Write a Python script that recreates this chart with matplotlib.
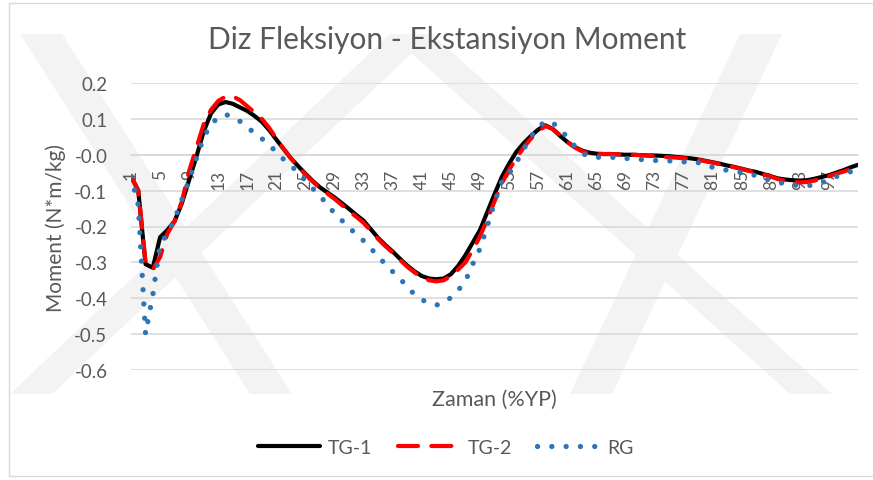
import numpy as np
import matplotlib
matplotlib.use("Agg")
import matplotlib.pyplot as plt
from matplotlib.patches import Polygon, Rectangle

plt.rcParams['font.family'] = ['Lato', 'DejaVu Sans']

# gait cycle points 1..101
zaman = np.arange(1, 102)
tick_labels = [str(t) for t in range(1, 101, 4)]

tg1 = [-0.060, -0.100, -0.305, -0.315, -0.230, -0.210, -0.185, -0.135, -0.070, -0.005,
       0.065, 0.115, 0.140, 0.147, 0.142, 0.132, 0.122, 0.108, 0.092, 0.069,
       0.042, 0.016, -0.010, -0.032, -0.053, -0.073, -0.091, -0.105, -0.119, -0.135,
       -0.151, -0.168, -0.184, -0.208, -0.232, -0.252, -0.270, -0.290, -0.309, -0.325,
       -0.338, -0.345, -0.347, -0.345, -0.333, -0.310, -0.280, -0.245, -0.210, -0.160,
       -0.110, -0.062, -0.025, 0.008, 0.032, 0.052, 0.070, 0.082, 0.072, 0.053,
       0.036, 0.022, 0.012, 0.006, 0.003, 0.002, 0.002, 0.001, 0.000, 0.000,
       -0.001, -0.002, -0.002, -0.003, -0.004, -0.006, -0.008, -0.010, -0.013, -0.017,
       -0.021, -0.025, -0.030, -0.034, -0.039, -0.044, -0.048, -0.054, -0.060, -0.066,
       -0.069, -0.071, -0.072, -0.071, -0.067, -0.062, -0.057, -0.050, -0.043, -0.035,
       -0.028]

tg2 = [-0.060, -0.100, -0.300, -0.320, -0.285, -0.220, -0.185, -0.130, -0.045, 0.020,
       0.085, 0.125, 0.150, 0.162, 0.163, 0.152, 0.135, 0.118, 0.100, 0.075,
       0.045, 0.016, -0.010, -0.034, -0.055, -0.075, -0.093, -0.108, -0.123, -0.140,
       -0.157, -0.173, -0.190, -0.212, -0.235, -0.255, -0.273, -0.293, -0.312, -0.328,
       -0.342, -0.350, -0.353, -0.350, -0.338, -0.320, -0.300, -0.265, -0.228, -0.180,
       -0.130, -0.080, -0.042, -0.010, 0.020, 0.045, 0.065, 0.080, 0.072, 0.055,
       0.036, 0.021, 0.010, 0.004, 0.002, 0.002, 0.002, 0.001, 0.000, 0.000,
       -0.001, -0.002, -0.004, -0.006, -0.007, -0.008, -0.010, -0.011, -0.014, -0.018,
       -0.022, -0.026, -0.030, -0.035, -0.040, -0.045, -0.050, -0.055, -0.061, -0.068,
       -0.073, -0.076, -0.077, -0.076, -0.072, -0.066, -0.060, -0.053, -0.047, -0.040,
       -0.035]

rg = [-0.060, -0.140, -0.500, -0.390, -0.250, -0.220, -0.180, -0.125, -0.070, -0.010,
      0.048, 0.085, 0.104, 0.112, 0.106, 0.093, 0.077, 0.060, 0.045, 0.027,
      0.008, -0.013, -0.030, -0.051, -0.072, -0.094, -0.114, -0.140, -0.163, -0.183,
      -0.203, -0.222, -0.240, -0.261, -0.284, -0.305, -0.326, -0.346, -0.367, -0.390,
      -0.404, -0.414, -0.419, -0.414, -0.398, -0.378, -0.352, -0.305, -0.262, -0.200,
      -0.133, -0.075, -0.052, -0.022, 0.015, 0.050, 0.077, 0.093, 0.090, 0.070,
      0.050, 0.025, 0.004, -0.004, -0.007, -0.007, -0.007, -0.008, -0.010, -0.012,
      -0.013, -0.015, -0.016, -0.016, -0.017, -0.019, -0.020, -0.019, -0.022, -0.027,
      -0.035, -0.041, -0.043, -0.046, -0.050, -0.054, -0.058, -0.065, -0.072, -0.077,
      -0.081, -0.084, -0.086, -0.086, -0.085, -0.078, -0.070, -0.061, -0.055, -0.047,
      -0.042]

W, H = 873, 481
fig = plt.figure(figsize=(W / 100, H / 100), dpi=100)

# faint watermark behind the chart (pixel coords -> figure coords)
def band(x_top, x_bot, w=42, y0=35, y1=395):
    pts = [(x_top, y0), (x_top + w, y0), (x_bot + w, y1), (x_bot, y1)]
    return Polygon([(x / W, 1 - y / H) for x, y in pts], closed=True,
                   transform=fig.transFigure, facecolor='#F3F3F3', edgecolor='none', zorder=-5)

for xt, xb in [(20, 250), (390, 10), (390, 790), (740, 570)]:
    fig.patches.append(band(xt, xb))

# chart border
fig.patches.append(Rectangle((9 / W, 1 - 477 / H), 1.0, (477 - 4) / H, transform=fig.transFigure,
                             facecolor='none', edgecolor='#D9D9D9', lw=1.0, zorder=-4))

ax = fig.add_axes([131 / W, 1 - 371 / H, (858 - 131) / W, (371 - 84) / H])
ax.set_zorder(2)
ax.patch.set_alpha(0)

ax.plot(zaman, tg1, color='black', lw=3.0, label='TG-1', solid_capstyle='round', zorder=3)
ax.plot(zaman, tg2, color='#FF0000', lw=3.0, linestyle=(0, (4.8, 3.2)),
        dash_capstyle='round', label='TG-2', zorder=4)
ax.plot(zaman, rg, color='#2E75B6', lw=3.8, linestyle=(0, (0.01, 2.7)),
        dash_capstyle='round', label='RG', zorder=5)

ax.set_xlim(1, 101)
ax.set_ylim(-0.6, 0.2)
ax.set_yticks(np.arange(-0.6, 0.21, 0.1))
ax.set_yticklabels([f'{v:.1f}' for v in np.arange(-0.6, 0.21, 0.1)])
ax.set_xticks(range(1, 101, 4))
ax.set_xticklabels(tick_labels)

ax.grid(axis='y', color='#D9D9D9', lw=1.2, zorder=1)
ax.set_axisbelow(True)
for s in ['top', 'right', 'left']:
    ax.spines[s].set_visible(False)
ax.spines['bottom'].set_position(('data', 0))
ax.spines['bottom'].set_color('#D9D9D9')
ax.spines['bottom'].set_linewidth(1.2)
ax.tick_params(axis='x', length=0, pad=10, labelsize=12.5, labelcolor='#595959', labelrotation=90)
ax.tick_params(axis='y', length=0, pad=17, labelsize=13.5, labelcolor='#595959')

ax.set_ylabel('Moment (N*m/kg)', fontsize=15, color='#595959')
ax.yaxis.set_label_coords(-0.09, 0.5)
ax.set_xlabel('Zaman (%YP)', fontsize=15.5, color='#595959')
ax.xaxis.set_label_coords(0.5, -0.066)

fig.text(447 / W, 1 - 40 / H, 'Diz Fleksiyon - Ekstansiyon Moment', ha='center', va='center',
         fontsize=21.5, color='#595959')

fig.legend(loc='center', bbox_to_anchor=(446 / W, 1 - 448 / H), ncol=3, frameon=False,
           fontsize=14, labelcolor='#595959', handlelength=3.2, columnspacing=1.3,
           handletextpad=0.4)

fig.savefig('out.png', dpi=100)
